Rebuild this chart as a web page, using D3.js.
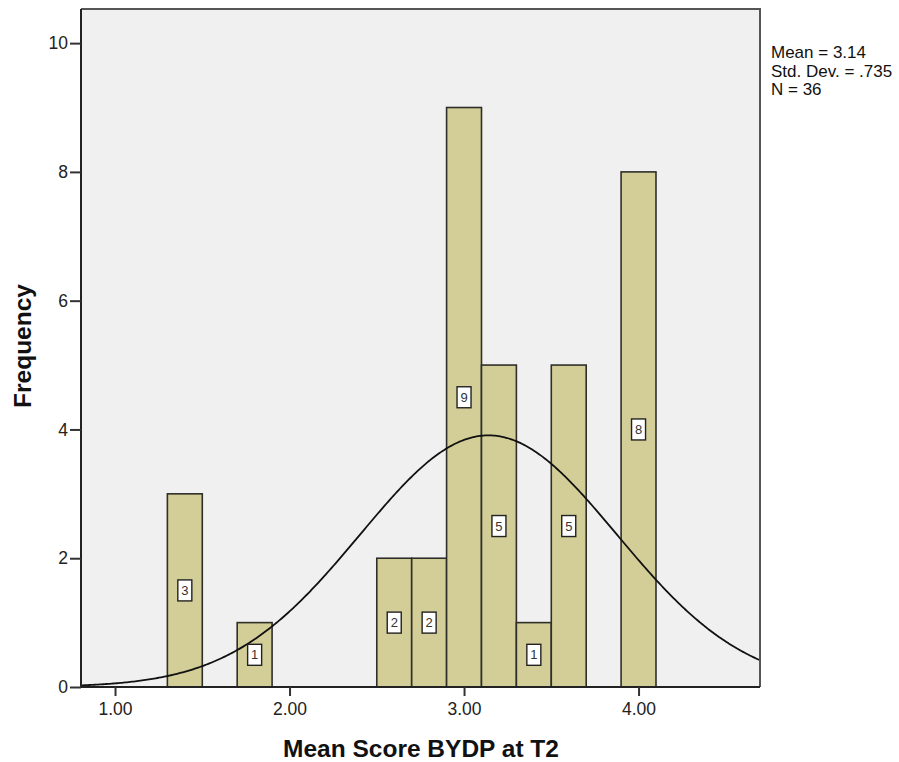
<!DOCTYPE html>
<html>
<head>
<meta charset="utf-8">
<script src="https://cdn.jsdelivr.net/npm/d3@7"></script>
<style>
  body { margin: 0; background: #fff; }
  svg { display: block; font-family: "Liberation Sans", Arial, sans-serif; }
</style>
</head>
<body>
<svg id="chart" width="899" height="762"></svg>
<script>
// Histogram bins (lower edge, upper edge) and their counts
const binStart = [1.3, 1.7, 2.5, 2.7, 2.9, 3.1, 3.3, 3.5, 3.9];
const binEnd   = [1.5, 1.9, 2.7, 2.9, 3.1, 3.3, 3.5, 3.7, 4.1];
const counts   = [3, 1, 2, 2, 9, 5, 1, 5, 8];

// Summary statistics
const statMean = 3.14;
const statSD = 0.735;
const statN = 36;
const binWidth = 0.2;
const statLines = ["Mean = 3.14", "Std. Dev. = .735", "N = 36"];

const xTicks = [1, 2, 3, 4];
const yTicks = [0, 2, 4, 6, 8, 10];

const svg = d3.select("#chart");
const plot = { left: 81, right: 760, top: 9, bottom: 687 };

const x = d3.scaleLinear().domain([0.805, 4.696]).range([plot.left, plot.right]);
const y = d3.scaleLinear().domain([0, 10.53]).range([plot.bottom, plot.top]);

// plot background
svg.append("rect")
  .attr("x", plot.left).attr("y", plot.top)
  .attr("width", plot.right - plot.left).attr("height", plot.bottom - plot.top)
  .attr("fill", "#f0f0f0");

svg.append("defs").append("clipPath").attr("id", "plotClip")
  .append("rect")
  .attr("x", plot.left).attr("y", plot.top)
  .attr("width", plot.right - plot.left).attr("height", plot.bottom - plot.top);

const bins = counts.map((c, i) => ({ x0: binStart[i], x1: binEnd[i], count: c }));

// bars
svg.append("g").selectAll("rect").data(bins).join("rect")
  .attr("x", d => x(d.x0))
  .attr("y", d => y(d.count))
  .attr("width", d => x(d.x1) - x(d.x0))
  .attr("height", d => y(0) - y(d.count))
  .attr("fill", "#d3ce97")
  .attr("stroke", "#2f2f2a")
  .attr("stroke-width", 1.6);

// normal curve from the summary statistics
const curvePts = d3.range(0, 401).map(i => {
  const v = 0.805 + (4.696 - 0.805) * i / 400;
  const dens = Math.exp(-0.5 * Math.pow((v - statMean) / statSD, 2)) / (statSD * Math.sqrt(2 * Math.PI));
  return [v, statN * binWidth * dens];
});
svg.append("path")
  .datum(curvePts)
  .attr("clip-path", "url(#plotClip)")
  .attr("fill", "none")
  .attr("stroke", "#111")
  .attr("stroke-width", 1.8)
  .attr("d", d3.line().x(d => x(d[0])).y(d => y(d[1])));

// count labels in small boxes at bar mid-height
const labels = svg.append("g").selectAll("g").data(bins).join("g")
  .attr("transform", d => `translate(${x((d.x0 + d.x1) / 2)},${y(d.count / 2)})`);
labels.append("rect")
  .attr("x", -7).attr("y", -10.5).attr("width", 14).attr("height", 21)
  .attr("fill", "#fff").attr("stroke", "#222").attr("stroke-width", 1.4);
labels.append("text")
  .attr("text-anchor", "middle").attr("dy", "0.36em")
  .attr("font-size", 13).attr("fill", "#333")
  .text(d => d.count);

// frame: top and right edges
svg.append("path")
  .attr("d", `M${plot.left},${plot.top}H${plot.right}V${plot.bottom}`)
  .attr("fill", "none").attr("stroke", "#555").attr("stroke-width", 2);

// axes
const xAxis = svg.append("g").attr("transform", `translate(0,${plot.bottom})`)
  .call(d3.axisBottom(x).tickValues(xTicks).tickFormat(d3.format(".2f")).tickSize(9).tickPadding(7));
const yAxis = svg.append("g").attr("transform", `translate(${plot.left},0)`)
  .call(d3.axisLeft(y).tickValues(yTicks).tickSize(11).tickPadding(2));

[xAxis, yAxis].forEach(a => {
  a.select(".domain").attr("stroke", "#222").attr("stroke-width", 2);
  a.selectAll(".tick line").attr("stroke", "#333").attr("stroke-width", 2);
  a.selectAll(".tick text").attr("font-size", 17.5).attr("fill", "#222")
    .attr("font-family", "'Liberation Sans', Arial, sans-serif");
});
xAxis.select(".domain").attr("d", `M${plot.left},0H${plot.right}`);
yAxis.select(".domain").attr("d", `M0,${plot.bottom}V${plot.top}`);

// axis titles
svg.append("text")
  .attr("x", 421).attr("y", 757)
  .attr("text-anchor", "middle")
  .attr("font-size", 24.5).attr("font-weight", "bold").attr("fill", "#111")
  .text("Mean Score BYDP at T2");
svg.append("text")
  .attr("transform", "translate(31,346) rotate(-90)")
  .attr("text-anchor", "middle")
  .attr("font-size", 24.5).attr("font-weight", "bold").attr("fill", "#111")
  .text("Frequency");

// statistics box
svg.append("g").selectAll("text").data(statLines).join("text")
  .attr("x", 771).attr("y", (d, i) => 58 + i * 18.5)
  .attr("font-size", 17).attr("fill", "#111")
  .text(d => d);
</script>
</body>
</html>
